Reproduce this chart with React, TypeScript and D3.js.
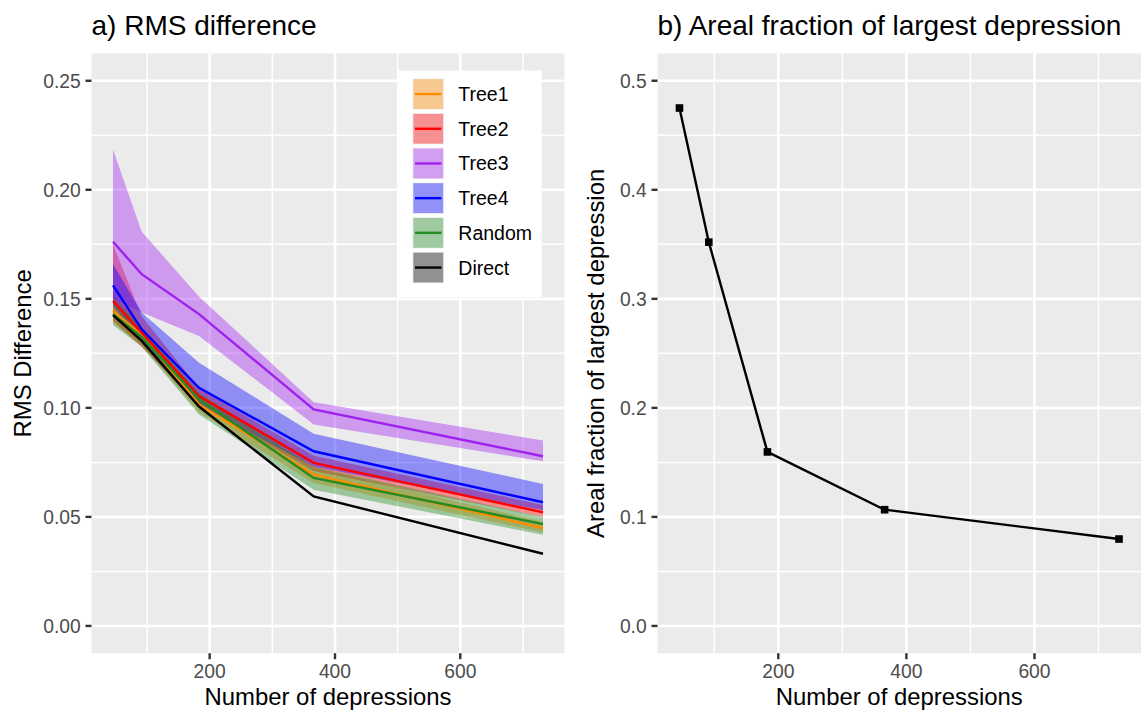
import React from "react";
import * as d3 from "d3";

// ---------- data ----------
const depressions = [45.7, 91.5, 183, 366, 732];

const seriesNames = ["Tree1", "Tree2", "Tree3", "Tree4", "Random", "Direct"];
const seriesColors = ["#FF8C00", "#FF0000", "#A020F0", "#0000FF", "#228B22", "#000000"];

const tree1Mean = [0.1445, 0.1335, 0.1015, 0.0694, 0.0449];
const tree1Low = [0.139, 0.129, 0.098, 0.0655, 0.0428];
const tree1High = [0.152, 0.137, 0.106, 0.0725, 0.0478];

const tree2Mean = [0.149, 0.1345, 0.1054, 0.0748, 0.0521];
const tree2Low = [0.14, 0.128, 0.101, 0.071, 0.05];
const tree2High = [0.175, 0.142, 0.109, 0.078, 0.0555];

const tree3Mean = [0.1762, 0.1613, 0.143, 0.0993, 0.0778];
const tree3Low = [0.15, 0.1437, 0.133, 0.0924, 0.0755];
const tree3High = [0.2185, 0.1808, 0.151, 0.1026, 0.085];

const tree4Mean = [0.1562, 0.136, 0.1092, 0.0801, 0.0567];
const tree4Low = [0.147, 0.13, 0.101, 0.073, 0.053];
const tree4High = [0.166, 0.1437, 0.1207, 0.0881, 0.0651];

const randomMean = [0.143, 0.1325, 0.1039, 0.0679, 0.0467];
const randomLow = [0.138, 0.128, 0.097, 0.0625, 0.0418];
const randomHigh = [0.15, 0.137, 0.107, 0.073, 0.05];

const directMean = [0.1425, 0.1307, 0.1006, 0.0594, 0.0331];
const directLow = [0.1425, 0.1307, 0.1006, 0.0594, 0.0331];
const directHigh = [0.1425, 0.1307, 0.1006, 0.0594, 0.0331];

const arealFraction = [0.475, 0.352, 0.1596, 0.1066, 0.0797];

const xTicks = [200, 400, 600];
const xMinorTicks = [100, 300, 500, 700];
const leftYLim = [0, 0.25];
const leftYTicks = [0, 0.05, 0.1, 0.15, 0.2, 0.25];
const leftYMinor = [0.025, 0.075, 0.125, 0.175, 0.225];
const rightYLim = [0, 0.5];
const rightYTicks = [0, 0.1, 0.2, 0.3, 0.4, 0.5];
const rightYMinor = [0.05, 0.15, 0.25, 0.35, 0.45];

const means = [tree1Mean, tree2Mean, tree3Mean, tree4Mean, randomMean, directMean];
const lows = [tree1Low, tree2Low, tree3Low, tree4Low, randomLow, directLow];
const highs = [tree1High, tree2High, tree3High, tree4High, randomHigh, directHigh];

// ---------- helpers ----------
const FONT = "'Liberation Sans', Arial, Helvetica, sans-serif";
const TICK_FS = 19.3;
const AXIS_FS = 23.9;
const TITLE_FS = 28;
const LEGEND_FS = 19.5;

function expand(lim: number[], f = 0.05) {
  const r = lim[1] - lim[0];
  return [lim[0] - r * f, lim[1] + r * f];
}

type PanelProps = {
  x0: number; x1: number; y0: number; y1: number;
  xs: d3.ScaleLinear<number, number>;
  ys: d3.ScaleLinear<number, number>;
  yTicks: number[]; yMinor: number[]; yFmt: (v: number) => string;
};

function PanelFrame({ x0, x1, y0, y1, xs, ys, yTicks, yMinor, yFmt }: PanelProps) {
  return (
    <g>
      <rect x={x0} y={y0} width={x1 - x0} height={y1 - y0} fill="#EBEBEB" />
      {yMinor.map((v) => (
        <line key={"ym" + v} x1={x0} x2={x1} y1={ys(v)} y2={ys(v)} stroke="#fff" strokeWidth={1.5} />
      ))}
      {xMinorTicks.map((v) => (
        <line key={"xm" + v} x1={xs(v)} x2={xs(v)} y1={y0} y2={y1} stroke="#fff" strokeWidth={1.5} />
      ))}
      {yTicks.map((v) => (
        <line key={"yM" + v} x1={x0} x2={x1} y1={ys(v)} y2={ys(v)} stroke="#fff" strokeWidth={2.6} />
      ))}
      {xTicks.map((v) => (
        <line key={"xM" + v} x1={xs(v)} x2={xs(v)} y1={y0} y2={y1} stroke="#fff" strokeWidth={2.6} />
      ))}
      {yTicks.map((v) => (
        <g key={"yt" + v}>
          <line x1={x0 - 6} x2={x0} y1={ys(v)} y2={ys(v)} stroke="#333" strokeWidth={2.4} />
          <text x={x0 - 10.8} y={ys(v) + 6.8} textAnchor="end" fontSize={TICK_FS} fill="#4D4D4D" fontFamily={FONT}>
            {yFmt(v)}
          </text>
        </g>
      ))}
      {xTicks.map((v) => (
        <g key={"xt" + v}>
          <line x1={xs(v)} x2={xs(v)} y1={y1} y2={y1 + 6} stroke="#333" strokeWidth={2.4} />
          <text x={xs(v)} y={678} textAnchor="middle" fontSize={TICK_FS} fill="#4D4D4D" fontFamily={FONT}>
            {v}
          </text>
        </g>
      ))}
    </g>
  );
}

export default function App() {
  const top = 53.5, bottom = 653.2;
  const L = { x0: 91.5, x1: 564.5 };
  const R = { x0: 657.5, x1: 1141 };
  const xDom = expand([d3.min(depressions)!, d3.max(depressions)!]);

  const xl = d3.scaleLinear().domain(xDom).range([L.x0, L.x1]);
  const yl = d3.scaleLinear().domain(expand(leftYLim)).range([bottom, top]);
  const xr = d3.scaleLinear().domain(xDom).range([R.x0, R.x1]);
  const yr = d3.scaleLinear().domain(expand(rightYLim)).range([bottom, top]);

  const area = d3.area<number>().x((_, i) => xl(depressions[i]));
  const lineL = d3.line<number>().x((_, i) => xl(depressions[i])).y((d) => yl(d));
  const lineR = d3.line<number>().x((_, i) => xr(depressions[i])).y((d) => yr(d));

  const legX0 = 398.3, legY0 = 70.5, legW = 143.4, legH = 226.5;
  const keyX = 412.5, keySize = 31.5, keyTop = 78.3, keyStep = 34.7;

  return (
    <svg width={1143} height={713} style={{ position: "absolute", left: 0, top: 0, background: "#fff" }}>
      <rect width={1143} height={713} fill="#fff" />
      {/* Left panel */}
      <PanelFrame x0={L.x0} x1={L.x1} y0={top} y1={bottom} xs={xl} ys={yl}
        yTicks={leftYTicks} yMinor={leftYMinor} yFmt={(v) => d3.format(".2f")(v)} />
      {seriesNames.map((s, k) => (
        <path key={"rib" + s}
          d={area.y0((_, i) => yl(lows[k][i])).y1((_, i) => yl(highs[k][i]))(means[k]) || ""}
          fill={seriesColors[k]} fillOpacity={0.4} stroke="none" />
      ))}
      {seriesNames.map((s, k) => (
        <path key={"ln" + s} d={lineL(means[k]) || ""} fill="none" stroke={seriesColors[k]} strokeWidth={2.4} />
      ))}
      {/* legend */}
      <rect x={legX0} y={legY0} width={legW} height={legH} fill="#fff" />
      {seriesNames.map((s, k) => {
        const ky = keyTop + k * keyStep;
        return (
          <g key={"lg" + s}>
            <rect x={keyX} y={ky} width={keySize} height={keySize} fill="#F2F2F2" />
            <rect x={keyX + 0.8} y={ky + 0.8} width={keySize - 1.6} height={keySize - 1.6}
              fill={seriesColors[k]} fillOpacity={0.4} />
            <line x1={keyX + 2.5} x2={keyX + keySize - 2.5} y1={ky + keySize / 2} y2={ky + keySize / 2}
              stroke={seriesColors[k]} strokeWidth={2.4} />
            <text x={458.3} y={ky + keySize / 2 + 7} fontSize={LEGEND_FS} fill="#000" fontFamily={FONT}>{s}</text>
          </g>
        );
      })}
      <text x={91.5} y={35} fontSize={TITLE_FS} fontFamily={FONT} fill="#000">a) RMS difference</text>
      <text x={(L.x0 + L.x1) / 2} y={705} textAnchor="middle" fontSize={AXIS_FS} fontFamily={FONT} fill="#000">
        Number of depressions
      </text>
      <text transform={`translate(31, ${(top + bottom) / 2}) rotate(-90)`} textAnchor="middle"
        fontSize={AXIS_FS} fontFamily={FONT} fill="#000">RMS Difference</text>

      {/* Right panel */}
      <PanelFrame x0={R.x0} x1={R.x1} y0={top} y1={bottom} xs={xr} ys={yr}
        yTicks={rightYTicks} yMinor={rightYMinor} yFmt={(v) => d3.format(".1f")(v)} />
      <path d={lineR(arealFraction) || ""} fill="none" stroke="#000" strokeWidth={2.4} />
      {arealFraction.map((v, i) => (
        <rect key={"pt" + i} x={xr(depressions[i]) - 3.8} y={yr(v) - 3.8} width={7.6} height={7.6} fill="#000" />
      ))}
      <text x={657.5} y={35} fontSize={TITLE_FS} fontFamily={FONT} fill="#000">b) Areal fraction of largest depression</text>
      <text x={(R.x0 + R.x1) / 2} y={705} textAnchor="middle" fontSize={AXIS_FS} fontFamily={FONT} fill="#000">
        Number of depressions
      </text>
      <text transform={`translate(604, ${(top + bottom) / 2}) rotate(-90)`} textAnchor="middle"
        fontSize={AXIS_FS} fontFamily={FONT} fill="#000">Areal fraction of largest depression</text>
    </svg>
  );
}
